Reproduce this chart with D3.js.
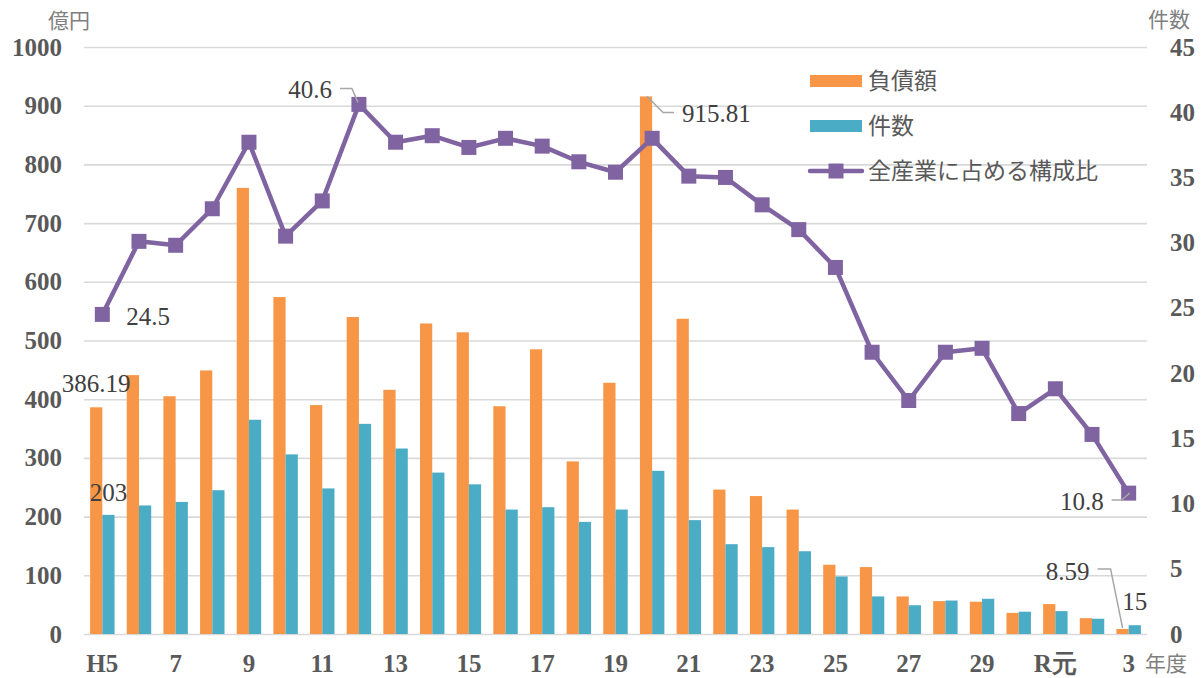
<!DOCTYPE html>
<html>
<head>
<meta charset="utf-8">
<script src="https://cdn.jsdelivr.net/npm/d3@7"></script>
<style>
  body { margin: 0; background: #fff; }
  svg { display: block; }
</style>
</head>
<body>
<div id="chart"></div>
<script>
// fiscal years (H = Heisei, R = Reiwa)
const years = ["H5","6","7","8","9","10","11","12","13","14","15","16","17","18","19","20",
               "21","22","23","24","25","26","27","28","29","30","R元","2","3"];
// 負債額 (億円)
const debt = [386.19, 441, 405, 449, 760, 574, 390, 540, 416, 529, 514, 388, 485, 294, 428, 915.81,
              537, 246, 235, 212, 118, 114, 64, 56, 55, 36, 51, 27, 8.59];
// 件数
const counts = [203, 219, 225, 245, 365, 306, 248, 358, 316, 275, 255, 212, 216, 191, 212, 278,
                194, 153, 148, 141, 98, 64, 49, 57, 60, 38, 39, 26, 15];
// 全産業に占める構成比 (%)
const share = [24.5, 30.1, 29.8, 32.6, 37.7, 30.5, 33.2, 40.6, 37.7, 38.2, 37.3, 38.0, 37.4, 36.2, 35.4, 38.0,
               35.1, 35.0, 32.9, 31.0, 28.1, 21.6, 17.9, 21.6, 21.9, 16.9, 18.8, 15.3, 10.8];

const leftTicks = [0, 100, 200, 300, 400, 500, 600, 700, 800, 900, 1000];
const rightTicks = [0, 5, 10, 15, 20, 25, 30, 35, 40, 45];

const W = 1201, H = 678;
const plotL = 84, plotR = 1147, plotT = 47, plotB = 634;

const orange = "#F79646", blue = "#4BACC6", purple = "#8064A2";
const tickFont = "'Liberation Serif', serif";
const labelFont = "'Liberation Serif', serif";
const cjkFont = "'Noto Sans CJK JP', sans-serif";

const svg = d3.select("#chart").append("svg")
    .attr("width", W)
    .attr("height", H);

// scales
const x = d3.scaleBand()
    .domain(years)
    .range([plotL, plotR])
    .paddingInner(1 / 3)
    .paddingOuter(1 / 6);

const xSub = d3.scaleBand()
    .domain(["debt", "count"])
    .range([0, x.bandwidth()]);

const yLeft = d3.scaleLinear().domain([0, 1000]).range([plotB, plotT]);
const yRight = d3.scaleLinear().domain([0, 45]).range([plotB, plotT]);

// gridlines + left axis
const gLeft = svg.append("g")
    .attr("transform", `translate(${plotL},0)`)
    .call(d3.axisLeft(yLeft).tickValues(leftTicks).tickFormat(d3.format("d"))
        .tickSize(-(plotR - plotL)).tickPadding(22));
gLeft.select(".domain").remove();
gLeft.selectAll(".tick line").attr("stroke", "#D9D9D9").attr("stroke-width", 1.6);
gLeft.selectAll(".tick text")
    .attr("font-family", tickFont).attr("font-weight", "bold")
    .attr("font-size", 25).attr("fill", "#595959");

// right axis
const gRight = svg.append("g")
    .attr("transform", `translate(${plotR},0)`)
    .call(d3.axisRight(yRight).tickValues(rightTicks).tickSize(0).tickPadding(23));
gRight.select(".domain").remove();
gRight.selectAll(".tick text")
    .attr("font-family", tickFont).attr("font-weight", "bold")
    .attr("font-size", 25).attr("fill", "#595959");

// bottom axis, every other label
const gBottom = svg.append("g")
    .attr("transform", `translate(0,${plotB})`)
    .call(d3.axisBottom(x).tickValues(years.filter((d, i) => i % 2 == 0)).tickSize(0));
gBottom.select(".domain").remove();
gBottom.selectAll(".tick text")
    .attr("y", 38).attr("dy", null)
    .attr("font-family", tickFont).attr("font-weight", "bold")
    .attr("font-size", 25).attr("fill", "#595959");

// bars
svg.append("g").selectAll("rect")
    .data(debt)
    .join("rect")
    .attr("x", (d, i) => x(years[i]) + xSub("debt"))
    .attr("y", d => yLeft(d))
    .attr("width", xSub.bandwidth())
    .attr("height", d => plotB - yLeft(d))
    .attr("fill", orange);

svg.append("g").selectAll("rect")
    .data(counts)
    .join("rect")
    .attr("x", (d, i) => x(years[i]) + xSub("count"))
    .attr("y", d => yLeft(d))
    .attr("width", xSub.bandwidth())
    .attr("height", d => plotB - yLeft(d))
    .attr("fill", blue);

// share line
const cx = i => x(years[i]) + x.bandwidth() / 2;
const line = d3.line()
    .x((d, i) => cx(i))
    .y(d => yRight(d));

svg.append("path")
    .datum(share)
    .attr("d", line)
    .attr("fill", "none")
    .attr("stroke", purple)
    .attr("stroke-width", 4.5)
    .attr("stroke-linejoin", "round");

svg.append("g").selectAll("rect")
    .data(share)
    .join("rect")
    .attr("x", (d, i) => cx(i) - 7.5)
    .attr("y", d => yRight(d) - 7.5)
    .attr("width", 15)
    .attr("height", 15)
    .attr("fill", purple);

// data labels
const last = years.length - 1;
const debtX = i => x(years[i]) + xSub("debt") + xSub.bandwidth() / 2;
const countX = i => x(years[i]) + xSub("count") + xSub.bandwidth() / 2;

function label(txt, px, py, anchor) {
    svg.append("text")
        .attr("x", px).attr("y", py)
        .attr("dy", "0.35em")
        .attr("text-anchor", anchor || "middle")
        .attr("font-family", labelFont)
        .attr("font-size", 25)
        .attr("fill", "#404040")
        .text(txt);
}
function leader(pts) {
    svg.append("polyline")
        .attr("points", pts.map(p => p.join(",")).join(" "))
        .attr("fill", "none")
        .attr("stroke", "#A6A6A6")
        .attr("stroke-width", 1.5);
}

label(debt[0], debtX(0), yLeft(debt[0]) - 24);
label(counts[0], countX(0), yLeft(counts[0]) - 23);
label(share[0], cx(0) + 24, yRight(share[0]) + 2, "start");

// 40.6 peak
const i12 = 7;
label(share[i12], cx(i12) - 27, yRight(share[i12]) - 15, "end");
leader([[cx(i12) - 19, yRight(share[i12]) - 16], [cx(i12) - 7, yRight(share[i12]) - 16], [cx(i12) - 1, yRight(share[i12]) - 2]]);

// 915.81 peak
const i20 = 15;
label(debt[i20], debtX(i20) + 36, yLeft(debt[i20]) + 17, "start");
leader([[debtX(i20) + 1, yLeft(debt[i20])], [debtX(i20) + 17, yLeft(debt[i20]) + 16], [debtX(i20) + 28, yLeft(debt[i20]) + 16]]);

// R3 labels
label(share[last], cx(last) - 25, yRight(share[last]) + 8, "end");
leader([[cx(last) - 17, yRight(share[last]) + 7], [cx(last) - 7, yRight(share[last]) + 7], [cx(last) + 1, yRight(share[last])]]);

label(debt[last], debtX(last) - 33, yLeft(debt[last]) - 58, "end");
leader([[debtX(last) - 25, yLeft(debt[last]) - 60], [debtX(last) - 12, yLeft(debt[last]) - 60], [debtX(last), yLeft(debt[last]) - 1]]);

label(counts[last], countX(last), yLeft(counts[last]) - 24);

// unit labels
function unit(txt, px, py) {
    svg.append("text")
        .attr("x", px).attr("y", py)
        .attr("dy", "0.35em")
        .attr("font-family", cjkFont)
        .attr("font-size", 21)
        .attr("fill", "#7F7F7F")
        .text(txt);
}
unit("億円", 48, 21);
unit("件数", 1148, 20);
unit("年度", 1145, 664);

// legend
const legend = svg.append("g").attr("transform", "translate(810,0)");
const items = [
    { name: "負債額", color: orange, type: "bar", y: 81 },
    { name: "件数", color: blue, type: "bar", y: 126 },
    { name: "全産業に占める構成比", color: purple, type: "line", y: 171 }
];
items.forEach(it => {
    if (it.type == "bar") {
        legend.append("rect")
            .attr("x", 0).attr("y", it.y - 6)
            .attr("width", 52).attr("height", 12)
            .attr("fill", it.color);
    } else {
        legend.append("line")
            .attr("x1", 0).attr("x2", 52)
            .attr("y1", it.y).attr("y2", it.y)
            .attr("stroke", it.color).attr("stroke-width", 4.5)
            .attr("stroke-linecap", "round");
        legend.append("rect")
            .attr("x", 26 - 7.5).attr("y", it.y - 7.5)
            .attr("width", 15).attr("height", 15)
            .attr("fill", it.color);
    }
    legend.append("text")
        .attr("x", 58).attr("y", it.y)
        .attr("dy", "0.35em")
        .attr("font-family", cjkFont)
        .attr("font-size", 23)
        .attr("fill", "#595959")
        .text(it.name);
});
</script>
</body>
</html>
